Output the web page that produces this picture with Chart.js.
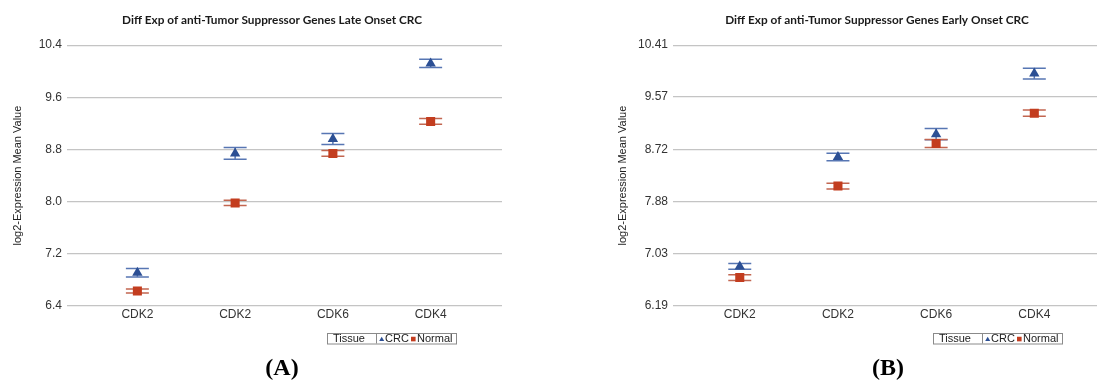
<!DOCTYPE html>
<html>
<head>
<meta charset="utf-8">
<script src="https://cdn.jsdelivr.net/npm/chart.js@4/dist/chart.umd.min.js"></script>
<style>
  html, body { margin: 0; padding: 0; background: #ffffff; overflow: hidden; }
  body { width: 1097px; height: 385px; position: relative; }
  .panel { position: absolute; top: 0; height: 385px; }
  .tag { position: absolute; top: 354px; font: bold 24px "Liberation Serif", "DejaVu Serif", serif; color: #000; transform: translateX(-50%); white-space: nowrap; }
</style>
</head>
<body>
<div class="panel" id="panelA" style="left:0;width:544px"><canvas id="chartA" width="544" height="385"></canvas></div>
<div class="panel" id="panelB" style="left:600px;width:554px"><canvas id="chartB" width="554" height="385"></canvas></div>
<div class="tag" style="left:282px">(A)</div>
<div class="tag" style="left:888px">(B)</div>
<script>
// Genes on the x axis (same order in both panels)
const categories = ['CDK2', 'CDK2', 'CDK6', 'CDK4'];

// Panel A: late onset CRC — mean log2 expression and error half-widths
const lateCRC = [6.91, 8.74, 8.96, 10.12];
const lateCRCErr = [0.065, 0.09, 0.085, 0.064];
const lateNormal = [6.63, 7.98, 8.74, 9.23];
const lateNormalErr = [0.03, 0.04, 0.045, 0.044];
const lateTicks = [6.4, 7.2, 8.0, 8.8, 9.6, 10.4];

// Panel B: early onset CRC
const earlyCRC = [6.83, 8.60, 8.97, 9.95];
const earlyCRCErr = [0.046, 0.06, 0.092, 0.086];
const earlyNormal = [6.65, 8.13, 8.82, 9.31];
const earlyNormalErr = [0.046, 0.047, 0.065, 0.05];
const earlyTicks = [6.19, 7.03, 7.88, 8.72, 9.57, 10.41];

const CRC_COLOR = '#2c4f94';
const CRC_BAR = '#5776b3';
const NORMAL_COLOR = '#c33d1f';
const NORMAL_BAR = '#c26650';
const SANS = '"Liberation Sans", Arial, sans-serif';

// Error bars: a short stem and two caps per point, drawn beneath the markers
const errorBars = {
  id: 'errorBars',
  beforeDatasetsDraw(chart) {
    const { ctx, scales: { x, y } } = chart;
    ctx.save();
    chart.data.datasets.forEach(ds => {
      ctx.strokeStyle = ds.errorColor;
      ctx.lineWidth = 1.5;
      ds.data.forEach((pt, i) => {
        const e = ds.errors[i];
        const px = x.getPixelForValue(pt.x);
        const top = y.getPixelForValue(pt.y + e);
        const bot = y.getPixelForValue(pt.y - e);
        const half = 11.5;
        ctx.beginPath();
        ctx.moveTo(px, top); ctx.lineTo(px, bot);
        ctx.moveTo(px - half, top); ctx.lineTo(px + half, top);
        ctx.moveTo(px - half, bot); ctx.lineTo(px + half, bot);
        ctx.stroke();
      });
    });
    ctx.restore();
  }
};

// Boxed legend: "Tissue" | ▲ CRC ■ Normal
const boxLegend = {
  id: 'boxLegend',
  afterDraw(chart) {
    const { ctx, chartArea } = chart;
    const L = chartArea.left + 260, T = 333, W = 129, H = 10.5;
    const [crc, normal] = chart.data.datasets;
    ctx.save();
    ctx.fillStyle = '#ffffff';
    ctx.fillRect(L, T, W, H);
    ctx.strokeStyle = '#8a8a8a';
    ctx.lineWidth = 1;
    ctx.strokeRect(L + 0.5, T + 0.5, W, H);
    ctx.beginPath();
    ctx.moveTo(L + 49.5, T); ctx.lineTo(L + 49.5, T + H);
    ctx.stroke();
    ctx.font = '11px ' + SANS;
    ctx.textBaseline = 'middle';
    ctx.fillStyle = '#222';
    const cy = T + H / 2 + 1;
    ctx.fillText('Tissue', L + 6, cy);
    // triangle marker
    ctx.fillStyle = crc.backgroundColor;
    ctx.beginPath();
    ctx.moveTo(L + 54.7, cy - 2.5);
    ctx.lineTo(L + 57.2, cy + 1.8);
    ctx.lineTo(L + 52.2, cy + 1.8);
    ctx.closePath();
    ctx.fill();
    ctx.fillStyle = '#222';
    ctx.fillText(crc.label, L + 58, cy);
    // square marker
    ctx.fillStyle = normal.backgroundColor;
    ctx.fillRect(L + 84, cy - 2.5, 4.6, 4.6);
    ctx.fillStyle = '#222';
    ctx.fillText(normal.label, L + 90, cy);
    ctx.restore();
  }
};

function makeChart(canvasId, title, crcVals, crcErr, normVals, normErr, yTicks, decimals, yWidth, rightWidth, titlePad, xMin, xMax) {
  const toPoints = vals => vals.map((v, i) => ({ x: i, y: v }));
  return new Chart(document.getElementById(canvasId), {
    type: 'scatter',
    data: {
      datasets: [
        {
          label: 'CRC',
          data: toPoints(crcVals),
          errors: crcErr,
          errorColor: CRC_BAR,
          pointStyle: 'triangle',
          pointRadius: 6,
          backgroundColor: CRC_COLOR,
          borderColor: CRC_COLOR,
          borderWidth: 0
        },
        {
          label: 'Normal',
          data: toPoints(normVals),
          errors: normErr,
          errorColor: NORMAL_BAR,
          pointStyle: 'rect',
          pointRadius: 6.4,
          backgroundColor: NORMAL_COLOR,
          borderColor: NORMAL_COLOR,
          borderWidth: 0
        }
      ]
    },
    options: {
      responsive: false,
      animation: false,
      devicePixelRatio: 1,
      layout: { padding: 0 },
      plugins: {
        legend: { display: false },
        tooltip: { enabled: false },
        title: {
          display: true,
          text: title,
          color: '#1a1a1a',
          font: { family: 'Lato, "Open Sans", sans-serif', size: 11.8, weight: 'bold' },
          padding: { top: 13, bottom: 18 }
        }
      },
      scales: {
        x: {
          type: 'linear',
          min: xMin,
          max: xMax,
          grid: { display: false },
          border: { display: false },
          afterBuildTicks: s => { s.ticks = categories.map((c, i) => ({ value: i })); },
          afterFit: s => { s.height = 79; },
          ticks: {
            padding: -7,
            color: '#333',
            font: { family: SANS, size: 12 },
            callback: v => categories[v]
          }
        },
        y: {
          position: 'left',
          min: yTicks[0],
          max: yTicks[yTicks.length - 1],
          afterBuildTicks: s => { s.ticks = yTicks.map(v => ({ value: v })); },
          afterFit: s => { s.width = yWidth; },
          grid: { color: '#c4c4c4', lineWidth: 1.3, drawTicks: false },
          border: { display: false },
          ticks: {
            padding: 5,
            color: '#333',
            font: { family: SANS, size: 12 },
            callback: v => Number(v).toFixed(decimals)
          },
          title: {
            display: true,
            text: 'log2-Expression Mean Value',
            color: '#222',
            font: { family: SANS, size: 11 },
            padding: { top: titlePad, bottom: 0 }
          }
        },
        spacer: {
          position: 'right',
          display: true,
          grid: { display: false },
          border: { display: false },
          ticks: { display: false },
          afterFit: s => { s.width = rightWidth; }
        }
      }
    },
    plugins: [errorBars, boxLegend]
  });
}

makeChart('chartA', 'Diff Exp of anti-Tumor Suppressor Genes Late Onset CRC',
  lateCRC, lateCRCErr, lateNormal, lateNormalErr, lateTicks, 1, 67, 42, 11.4, -0.72, 3.73);
makeChart('chartB', 'Diff Exp of anti-Tumor Suppressor Genes Early Onset CRC',
  earlyCRC, earlyCRCErr, earlyNormal, earlyNormalErr, earlyTicks, 2, 73, 49, 16.4, -0.68, 3.72);
</script>
</body>
</html>
